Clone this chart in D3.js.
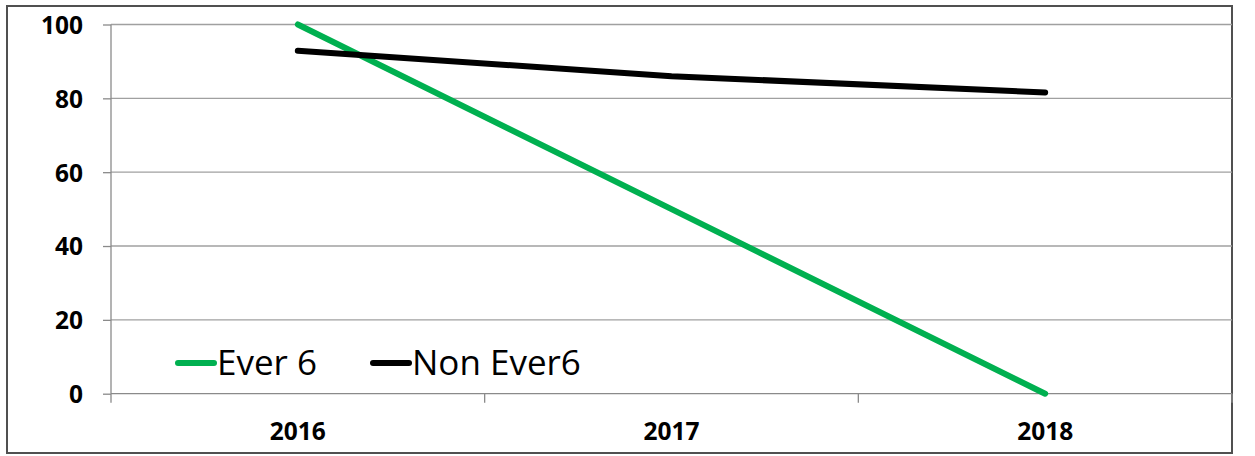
<!DOCTYPE html>
<html><head><meta charset="utf-8">
<script src="https://cdn.jsdelivr.net/npm/d3@7"></script>
<style>body{margin:0;background:#fff}svg{display:block}</style>
</head><body>
<svg id="c" width="1255" height="456"></svg>
<script>
const categories = ["2016", "2017", "2018"];
const ever6 = [100, 50, 0];
const nonEver6 = [92.9, 86.0, 81.6];
const yTicks = [0, 20, 40, 60, 80, 100];
const seriesNames = ["Ever 6", "Non Ever6"];
const seriesColors = ["#00B050", "#000000"];

(function () {
const svg = d3.select("#c");
const pLeft = 111, pRight = 1232, pTop = 24.5, pBottom = 393.7;
const x = d3.scaleBand().domain(categories).range([pLeft, pRight]).padding(0);
const y = d3.scaleLinear().domain([0, 100]).range([pBottom, pTop]);

// outer border
svg.append("rect").attr("x", 7).attr("y", 6).attr("width", 1225).attr("height", 447)
  .attr("fill", "#fff").attr("stroke", "#505050").attr("stroke-width", 2);

// gridlines
svg.append("g").selectAll("line").data(yTicks.filter(d => d > 0)).join("line")
  .attr("x1", pLeft).attr("x2", pRight).attr("y1", d => y(d)).attr("y2", d => y(d))
  .attr("stroke", "#a0a0a0").attr("stroke-width", 1.3);

// y axis
const yAxis = d3.axisLeft(y).tickValues(yTicks).tickSize(8).tickPadding(20).tickFormat(d3.format("d"));
const gy = svg.append("g").attr("transform", `translate(${pLeft},0)`).call(yAxis);
gy.select(".domain").attr("stroke", "#8a8a8a").attr("stroke-width", 1.3).attr("d", `M0,${pTop}V${pBottom}`);
gy.selectAll(".tick line").attr("stroke", "#8a8a8a").attr("stroke-width", 1.3);
gy.selectAll(".tick text").attr("font-family", "'Open Sans', sans-serif").attr("font-weight", "bold")
  .attr("font-size", "24.5px").attr("fill", "#000").attr("dy", "0.36em").attr("x", -28);

// x axis
const xAxis = d3.axisBottom(x).tickSize(0).tickPadding(0);
const gx = svg.append("g").attr("transform", `translate(0,${pBottom})`).call(xAxis);
gx.select(".domain").attr("stroke", "#8a8a8a").attr("stroke-width", 1.3).attr("d", `M${pLeft},0H${pRight}`);
gx.selectAll(".tick text").attr("font-family", "'Open Sans', sans-serif").attr("font-weight", "bold")
  .attr("font-size", "24.5px").attr("fill", "#000").attr("dy", 0).attr("y", 46);
// category boundary ticks
const bounds = categories.map(c => x(c)).concat([x(categories[categories.length - 1]) + x.bandwidth()]);
svg.append("g").selectAll("line").data(bounds).join("line")
  .attr("x1", d => d).attr("x2", d => d).attr("y1", pBottom).attr("y2", pBottom + 9)
  .attr("stroke", "#8a8a8a").attr("stroke-width", 1.3);

// lines
const cx = c => x(c) + x.bandwidth() / 2;
const line = d3.line().x((d, i) => cx(categories[i])).y(d => y(d));
[ever6, nonEver6].forEach((s, i) => {
  svg.append("path").datum(s).attr("d", line).attr("fill", "none")
    .attr("stroke", seriesColors[i]).attr("stroke-width", 6)
    .attr("stroke-linecap", "round").attr("stroke-linejoin", "round");
});

// legend
const legendX = [178, 373];
const lg = svg.append("g");
seriesNames.forEach((n, i) => {
  lg.append("line").attr("x1", legendX[i]).attr("x2", legendX[i] + 36).attr("y1", 363).attr("y2", 363)
    .attr("stroke", seriesColors[i]).attr("stroke-width", 6).attr("stroke-linecap", "round");
  lg.append("text").attr("x", legendX[i] + 39).attr("y", 375)
    .attr("font-family", "'Open Sans', sans-serif").attr("font-size", "35px").attr("fill", "#000").text(n);
});
})();
</script>
</body></html>
